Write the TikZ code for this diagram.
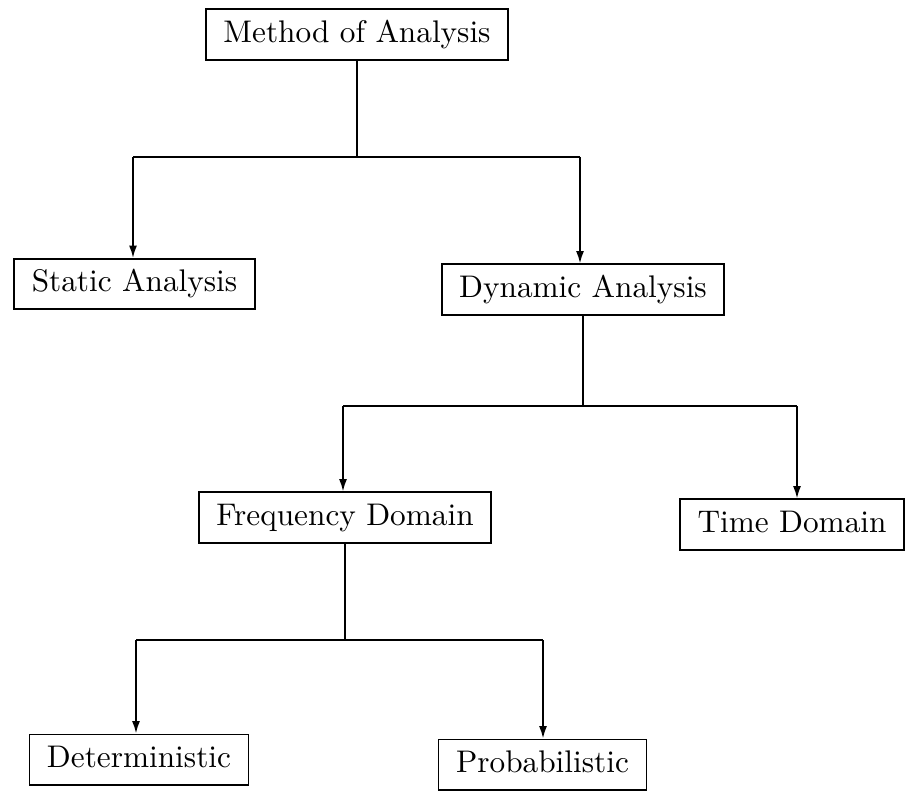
\documentclass[tikz,border=0pt]{standalone}
\usepackage{fontspec}
\newfontfamily\tenrm{lmroman10-regular.otf}
\usetikzlibrary{arrows.meta}
\begin{document}
\begin{tikzpicture}[scale=1,line width=1pt,
        box/.style={draw,rectangle,inner xsep=10pt,inner ysep=6.3pt,
            text height=12.5pt,text depth=3.5pt,
            font=\tenrm\fontsize{17.8}{21}\selectfont},
        arr/.style={-{Latex[length=7pt,width=4.5pt]}}]
    \useasboundingbox (0,0) rectangle (18.14,-15.8);

    \node[box] (method) at (7.14,-0.69) {Method of Analysis};
    \node[box] (static) at (2.69,-5.68) {Static Analysis};
    \node[box] (dyn) at (11.66,-5.79) {Dynamic Analysis};
    \node[box] (freq) at (6.90,-10.35) {Frequency Domain};
    \node[box] (time) at (15.84,-10.49) {Time Domain};
    \node[box] (det) at (2.78,-15.19) {Deterministic};
    \node[box] (prob) at (10.85,-15.29) {Probabilistic};

    % first split
    \coordinate (a1) at (2.66,-3.14);
    \coordinate (b1) at (11.6,-3.14);
    \draw (method.south) -- (method.south |- a1);
    \draw (a1) -- (b1);
    \draw[arr] (a1) -- (a1 |- static.north);
    \draw[arr] (b1) -- (b1 |- dyn.north);

    % second split
    \coordinate (a2) at (6.86,-8.12);
    \coordinate (b2) at (15.94,-8.12);
    \draw (dyn.south) -- (dyn.south |- a2);
    \draw (a2) -- (b2);
    \draw[arr] (a2) -- (a2 |- freq.north);
    \draw[arr] (b2) -- (b2 |- time.north);

    % third split
    \coordinate (a3) at (2.72,-12.8);
    \coordinate (b3) at (10.86,-12.8);
    \draw (freq.south) -- (freq.south |- a3);
    \draw (a3) -- (b3);
    \draw[arr] (a3) -- (a3 |- det.north);
    \draw[arr] (b3) -- (b3 |- prob.north);
\end{tikzpicture}
\end{document}
